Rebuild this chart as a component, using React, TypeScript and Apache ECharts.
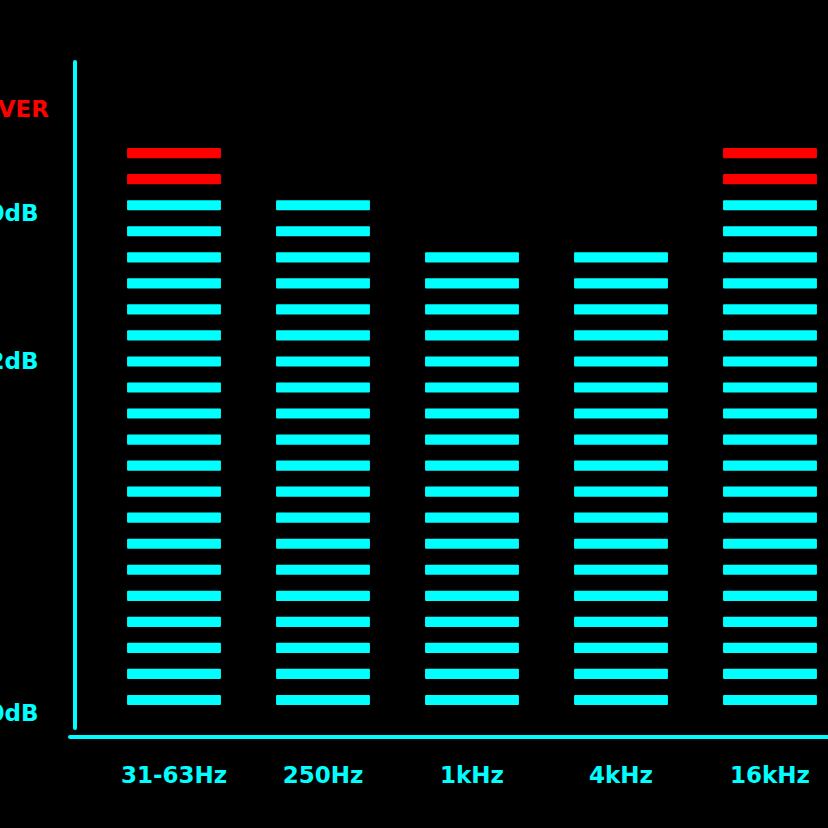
import React, { useEffect, useRef } from "react";
import * as echarts from "echarts";

// ---- data ----
const categories = ["31-63Hz", "250Hz", "1kHz", "4kHz", "16kHz"];
const segmentCounts = [22, 20, 18, 18, 22];
const safeSegments = 20; // segments above this are drawn red
const yTickValues = [0, 13.5, 19.2];
const yTickLabels = ["-60dB", "-12dB", "0dB"];
const overValue = [23.2];
const overLabel = ["OVER"];

const CYAN = "#00ffff";
const RED = "#ff0000";
const FONT = "DejaVu Sans";

export default function App() {
  const ref = useRef<HTMLDivElement>(null);
  useEffect(() => {
    if (!ref.current) return;
    const chart = echarts.init(ref.current, undefined, { renderer: "svg" });
    const yMin = -0.576;
    const yMax = 25;
    chart.setOption({
      animation: false,
      backgroundColor: "#000000",
      grid: [
        { left: 99.5, width: 745, top: 62, bottom: 100, containLabel: false, outerBoundsMode: "none" },
        { left: 70, right: 0, top: 62, bottom: 91, containLabel: false, outerBoundsMode: "none" },
      ],
      xAxis: [
        {
          type: "category",
          gridIndex: 0,
          data: categories,
          axisLine: { show: false },
          axisTick: { show: false },
          splitLine: { show: false },
          axisLabel: {
            interval: 0,
            color: CYAN,
            fontFamily: FONT,
            fontWeight: "bold",
            fontSize: 23,
            margin: 35,
          },
        },
        {
          type: "value",
          gridIndex: 1,
          min: 0,
          max: 1,
          axisLine: { show: true, lineStyle: { color: CYAN, width: 4 } },
          axisTick: { show: false },
          axisLabel: { show: false },
          splitLine: { show: false },
        },
      ],
      yAxis: [
        {
          type: "value",
          gridIndex: 0,
          position: "left",
          min: yMin,
          max: yMax,
          offset: 25,
          axisLine: { show: true, lineStyle: { color: CYAN, width: 4 } },
          axisTick: { show: false },
          splitLine: { show: false },
          axisLabel: {
            customValues: yTickValues,
            formatter: (v: number) => {
              const i = yTickValues.indexOf(v);
              return i >= 0 ? yTickLabels[i] : "";
            },
            color: CYAN,
            fontFamily: FONT,
            fontWeight: "bold",
            fontSize: 23,
            margin: 36,
          },
        },
        {
          type: "value",
          gridIndex: 0,
          position: "left",
          min: yMin,
          max: yMax,
          offset: 14.5,
          axisLine: { show: false },
          axisTick: { show: false },
          splitLine: { show: false },
          axisLabel: {
            customValues: overValue,
            formatter: (v: number) => {
              const i = overValue.indexOf(v);
              return i >= 0 ? overLabel[i] : "";
            },
            color: RED,
            fontFamily: FONT,
            fontWeight: "bold",
            fontSize: 23,
            margin: 36,
          },
        },
        {
          type: "value",
          gridIndex: 1,
          show: false,
        },
      ],
      series: [
        {
          type: "custom",
          xAxisIndex: 0,
          yAxisIndex: 0,
          encode: { x: 0, y: 1 },
          data: segmentCounts.map((v, i) => [i, v]),
          renderItem: (params: any, api: any) => {
            const idx = api.value(0);
            const n = api.value(1);
            const bw = api.size([1, 0])[0] * 0.63;
            const h = api.size([0, 0.39])[1];
            const children: any[] = [];
            for (let s = 0; s < n; s++) {
              const c = api.coord([idx, s + 0.5]);
              children.push({
                type: "rect",
                shape: { x: c[0] - bw / 2, y: c[1] - h / 2, width: bw, height: h, r: 1 },
                style: { fill: s >= safeSegments ? RED : CYAN },
              });
            }
            return { type: "group", children };
          },
        },
      ],
    });
    return () => chart.dispose();
  }, []);
  return (
    <div
      ref={ref}
      style={{ position: "fixed", left: 0, top: 0, width: 828, height: 828, background: "#000" }}
    />
  );
}
